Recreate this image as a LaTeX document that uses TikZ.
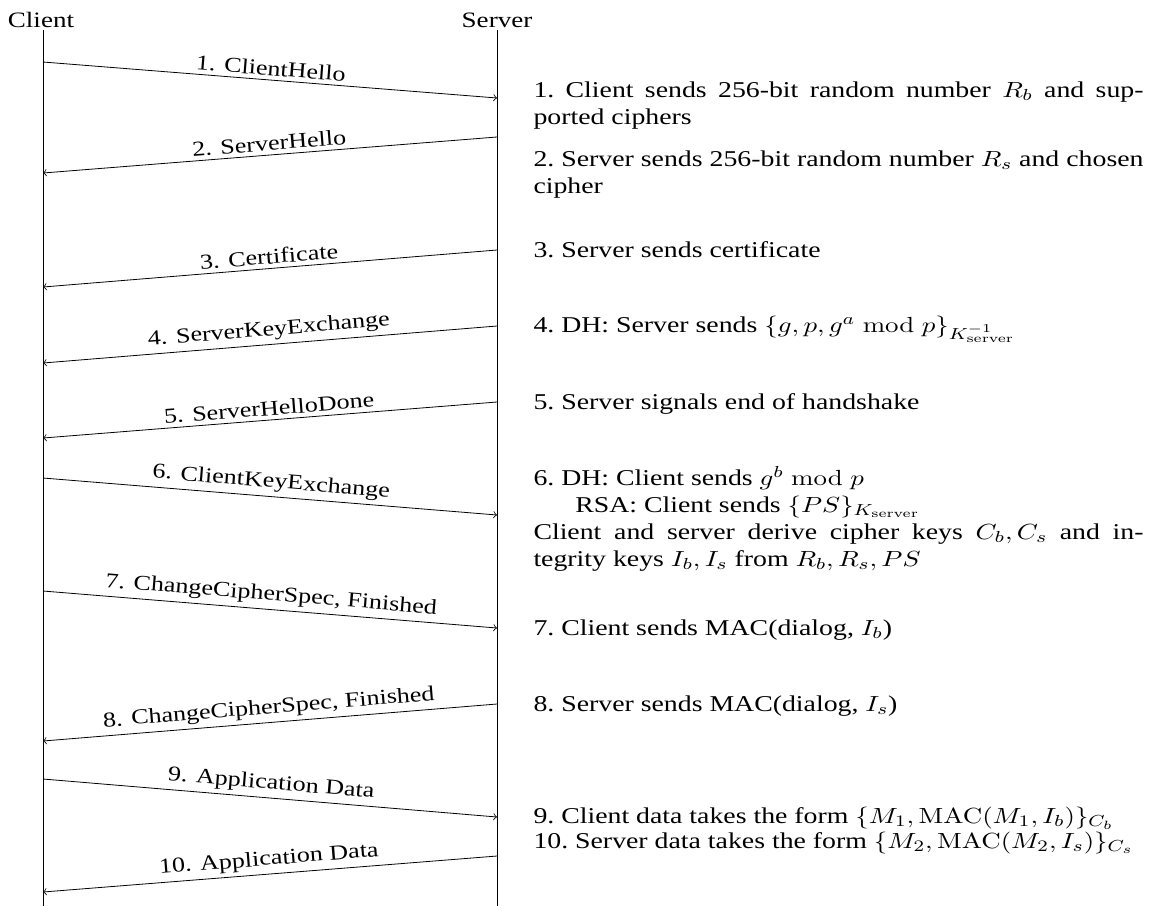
\documentclass[tikz,border=0pt]{standalone}
\usepackage[no-math]{fontspec}
\setmainfont{Liberation Serif}
\newfontfamily\widefont[FakeStretch=1.23]{Liberation Serif}
\usetikzlibrary{positioning}

\begin{document}
\begin{tikzpicture}[x = 0.5pt, y = -0.5pt,
  msg/.style = {->, line width = 0.4pt},
  lbl/.style = {above, sloped, midway, inner sep = 2pt, font = \widefont\fontsize{10.6}{12.7}\selectfont},
  head/.style = {anchor = base, inner sep = 0pt, font = \widefont\fontsize{11}{13.5}\selectfont},
  note/.style = {anchor = base west, inner sep = 0pt, xscale = 1.23, transform shape, text width = 248pt, align = justify, font = \fontsize{11.3}{13.5}\selectfont\frenchspacing}]
\useasboundingbox (0,0) rectangle (1155,906);
% parties and life lines
\node[head] (client) at (41,27) {Client};
\node[head] (server) at (497,27) {Server};
\coordinate (ctop) at (43,30);
\coordinate (cbot) at (43,906);
\coordinate (stop) at (497,30);
\coordinate (sbot) at (497,906);
\draw[line width = 0.5pt] (ctop) -- (cbot);
\draw[line width = 0.5pt] (stop) -- (sbot);
% end points of the messages
\coordinate (c1) at (43,62);   \coordinate (s1) at (497,98);
\coordinate (s2) at (497,137); \coordinate (c2) at (43,173);
\coordinate (s3) at (497,250); \coordinate (c3) at (43,287);
\coordinate (s4) at (497,326); \coordinate (c4) at (43,363);
\coordinate (s5) at (497,402); \coordinate (c5) at (43,438);
\coordinate (c6) at (43,478);  \coordinate (s6) at (497,515);
\coordinate (c7) at (43,591);  \coordinate (s7) at (497,628);
\coordinate (s8) at (497,704); \coordinate (c8) at (43,741);
\coordinate (c9) at (43,779);  \coordinate (s9) at (497,817);
\coordinate (s10) at (497,856); \coordinate (c10) at (43,892);
% messages
\draw[msg] (c1) -- node[lbl] {1. ClientHello} (s1);
\draw[msg] (s2) -- node[lbl] {2. ServerHello} (c2);
\draw[msg] (s3) -- node[lbl] {3. Certificate} (c3);
\draw[msg] (s4) -- node[lbl] {4. ServerKeyExchange} (c4);
\draw[msg] (s5) -- node[lbl] {5. ServerHelloDone} (c5);
\draw[msg] (c6) -- node[lbl] {6. ClientKeyExchange} (s6);
\draw[msg] (c7) -- node[lbl] {7. ChangeCipherSpec, Finished} (s7);
\draw[msg] (s8) -- node[lbl] {8. ChangeCipherSpec, Finished} (c8);
\draw[msg] (c9) -- node[lbl] {9. Application Data} (s9);
\draw[msg] (s10) -- node[lbl] {10. Application Data} (c10);
% explanations
\coordinate (p1) at (533,97);
\coordinate (p2) at (533,166);
\coordinate (p3) at (533,257);
\coordinate (p4) at (533,332);
\coordinate (p5) at (533,409);
\coordinate (p6) at (533,485);
\coordinate (p7) at (533,635);
\coordinate (p8) at (533,711);
\coordinate (p9) at (533,823);
\coordinate (p10) at (533,848);
\node[note] (n1) at (p1) {1. Client sends 256-bit random number $R_b$ and sup-\linebreak ported ciphers};
\node[note] (n2) at (p2) {2. Server sends 256-bit random number $R_s$ and chosen\linebreak cipher};
\node[note] (n3) at (p3) {3. Server sends certificate};
\node[note] (n4) at (p4) {4. DH: Server sends $\{g, p, g^a \bmod p\}_{K^{-1}_{\mathrm{server}}}$};
\node[note] (n5) at (p5) {5. Server signals end of handshake};
\node[note] (n6) at (p6) {6. DH: Client sends $g^b \bmod p$\\
  \hspace*{17pt}RSA: Client sends $\{PS\}_{K_{\mathrm{server}}}$\\
  Client and server derive cipher keys $C_b, C_s$ and in-\linebreak tegrity keys $I_b, I_s$ from $R_b, R_s, PS$};
\node[note] (n7) at (p7) {7. Client sends MAC(dialog, $I_b$)};
\node[note] (n8) at (p8) {8. Server sends MAC(dialog, $I_s$)};
\node[note] (n9) at (p9) {9. Client data takes the form $\{M_1, \mathrm{MAC}(M_1, I_b)\}_{C_b}$};
\node[note] (n10) at (p10) {10. Server data takes the form $\{M_2, \mathrm{MAC}(M_2, I_s)\}_{C_s}$};
\end{tikzpicture}
\end{document}
